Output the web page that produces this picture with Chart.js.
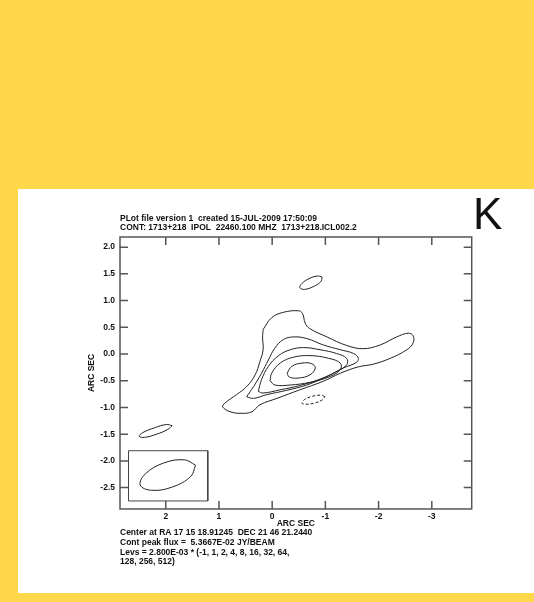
<!DOCTYPE html>
<html>
<head>
<meta charset="utf-8">
<script src="https://cdn.jsdelivr.net/npm/chart.js@4.4.1/dist/chart.umd.min.js"></script>
<style>
  html, body { margin: 0; padding: 0; }
  body { width: 534px; height: 602px; background: #ffd74a; position: relative; overflow: hidden; }
  .panel { position: absolute; left: 18px; top: 189px; width: 516px; height: 404px; background: #fff; }
  .panel canvas { position: absolute; left: 0; top: 0; }
  .tag { position: absolute; left: 455px; top: 3px; font: 44px/44px "Liberation Sans", Arial, sans-serif; color: #111; }
</style>
</head>
<body>
<div class="panel">
  <canvas id="contourChart" width="516" height="404"></canvas>
  <div class="tag">K</div>
</div>
<script>
// axis ticks (arc sec)
const xTicks = [2, 1, 0, -1, -2, -3];
const yTicks = [-2.5, -2, -1.5, -1, -0.5, 0, 0.5, 1, 1.5, 2];

// header / footer text
const headerLines = [
  "PLot file version 1  created 15-JUL-2009 17:50:09",
  "CONT: 1713+218  IPOL  22460.100 MHZ  1713+218.ICL002.2"
];
const footerLines = [
  "Center at RA 17 15 18.91245  DEC 21 46 21.2440",
  "Cont peak flux =  5.3667E-02 JY/BEAM",
  "Levs = 2.800E-03 * (-1, 1, 2, 4, 8, 16, 32, 64,",
  "128, 256, 512)"
];

// contours, [ra offset, dec offset] in arc sec
const level1 = [[0.17,0.46],[0.01,0.68],[-0.21,0.78],[-0.49,0.81],[-0.57,0.76],[-0.62,0.58],[-0.70,0.48],
  [-1.03,0.32],[-1.40,0.16],[-1.71,0.10],[-2.03,0.17],[-2.34,0.32],[-2.56,0.39],[-2.65,0.34],[-2.65,0.21],
  [-2.53,0.08],[-2.22,-0.08],[-1.90,-0.19],[-1.62,-0.24],[-1.28,-0.36],[-0.96,-0.51],[-0.52,-0.67],
  [-0.09,-0.83],[0.23,-0.95],[0.38,-1.08],[0.57,-1.11],[0.79,-1.08],[0.93,-0.99],[0.89,-0.92],
  [0.67,-0.76],[0.48,-0.61],[0.32,-0.39],[0.23,-0.14],[0.17,0.08],[0.18,0.30],[0.17,0.46]];
const level2 = [[0.48,-0.80],[0.35,-0.61],[0.20,-0.36],[0.07,-0.11],[-0.05,0.11],[-0.21,0.27],[-0.40,0.32],
  [-0.65,0.29],[-0.96,0.17],[-1.28,0.08],[-1.53,0.01],[-1.62,-0.08],[-1.58,-0.16],[-1.34,-0.26],
  [-1.03,-0.42],[-0.65,-0.58],[-0.27,-0.68],[0.10,-0.76],[0.35,-0.83],[0.48,-0.80]];
const level3 = [[0.26,-0.70],[0.20,-0.48],[0.07,-0.23],[-0.12,-0.03],[-0.34,0.08],[-0.59,0.12],[-0.90,0.08],
  [-1.21,0.01],[-1.40,-0.08],[-1.40,-0.20],[-1.21,-0.33],[-0.90,-0.47],[-0.52,-0.59],[-0.15,-0.67],
  [0.17,-0.73],[0.26,-0.70]];
const level4 = [[0.04,-0.50],[0.01,-0.36],[-0.15,-0.17],[-0.40,-0.06],[-0.71,-0.03],[-1.06,-0.08],[-1.28,-0.17],
  [-1.28,-0.29],[-1.09,-0.42],[-0.71,-0.53],[-0.34,-0.58],[-0.05,-0.58],[0.04,-0.50]];
const level5 = [[-0.28,-0.36],[-0.37,-0.23],[-0.56,-0.17],[-0.74,-0.18],[-0.81,-0.26],[-0.71,-0.39],
  [-0.49,-0.45],[-0.32,-0.43],[-0.28,-0.36]];
const knotNorth = [[-0.94,1.44],[-0.85,1.46],[-0.69,1.41],[-0.56,1.32],[-0.52,1.24],[-0.61,1.21],
  [-0.77,1.26],[-0.91,1.35],[-0.94,1.44]];
const knotSouthWest = [[1.88,-1.34],[1.99,-1.32],[2.21,-1.38],[2.43,-1.47],[2.50,-1.54],[2.40,-1.56],
  [2.17,-1.50],[1.96,-1.41],[1.88,-1.34]];
const negative = [[-0.99,-0.80],[-0.92,-0.77],[-0.76,-0.79],[-0.61,-0.85],[-0.56,-0.92],[-0.63,-0.94],
  [-0.79,-0.92],[-0.94,-0.86],[-0.99,-0.80]];
const beam = [[1.44,-2.08],[1.65,-1.98],[2.04,-2.04],[2.38,-2.24],[2.48,-2.45],[2.27,-2.55],
  [1.88,-2.49],[1.53,-2.29],[1.44,-2.08]];
const beamBox = [[2.70,-1.81],[1.21,-1.81],[1.21,-2.75],[2.70,-2.75],[2.70,-1.81]];

const lineColor = "#222";
const txtFont = { family: "'Liberation Sans', Arial, sans-serif", size: 8.5, weight: "bold", lineHeight: 1.1 };

const toPts = (arr) => arr.map(([x, y]) => ({ x, y }));
const contour = (arr, extra) => Object.assign({
  data: toPts(arr),
  showLine: true,
  borderColor: lineColor,
  borderWidth: 1,
  pointRadius: 0,
  tension: 0.4,
  fill: false
}, extra || {});

// frame with inward tick marks on all four sides
const framePlugin = {
  id: "frame",
  afterDatasetsDraw(chart) {
    const { ctx, chartArea: a, scales } = chart;
    const len = 8;
    ctx.save();
    ctx.strokeStyle = "#555";
    ctx.lineWidth = 1.5;
    ctx.strokeRect(a.left, a.top, a.right - a.left, a.bottom - a.top);
    ctx.beginPath();
    scales.x.ticks.forEach(t => {
      const px = scales.x.getPixelForValue(t.value);
      ctx.moveTo(px, a.top); ctx.lineTo(px, a.top + len);
      ctx.moveTo(px, a.bottom); ctx.lineTo(px, a.bottom - len);
    });
    scales.y.ticks.forEach(t => {
      const py = scales.y.getPixelForValue(t.value);
      ctx.moveTo(a.left, py); ctx.lineTo(a.left + len, py);
      ctx.moveTo(a.right, py); ctx.lineTo(a.right - len, py);
    });
    ctx.stroke();
    ctx.restore();
  }
};

new Chart(document.getElementById("contourChart"), {
  type: "scatter",
  data: {
    datasets: [
      contour(level1), contour(level2), contour(level3), contour(level4), contour(level5),
      contour(knotNorth), contour(knotSouthWest),
      contour(negative, { borderDash: [3, 2] }),
      contour(beam),
      contour(beamBox, { tension: 0, borderColor: "#444" })
    ]
  },
  options: {
    responsive: false,
    animation: false,
    devicePixelRatio: 1,
    layout: { padding: { left: 0, right: 62.3, top: 0, bottom: 26.4 } },
    plugins: {
      legend: { display: false },
      tooltip: { enabled: false },
      title: {
        display: true, text: headerLines, align: "start", fullSize: false,
        color: "#111", font: txtFont, padding: { top: 25, bottom: 4.3 }
      },
      subtitle: {
        display: true, text: footerLines, position: "bottom", align: "start", fullSize: false,
        color: "#111", font: Object.assign({}, txtFont, { lineHeight: 1.13 }), padding: 0
      }
    },
    scales: {
      x: {
        type: "linear", min: -3.75, max: 2.86, reverse: true,
        afterBuildTicks: s => { s.ticks = xTicks.map(v => ({ value: v })); },
        afterFit: s => { s.height = 19.2; },
        grid: { display: false, drawTicks: false }, border: { display: false },
        ticks: { padding: 3, color: "#111", font: txtFont, callback: v => String(v) },
        title: { display: true, text: "ARC SEC", color: "#111", font: txtFont, padding: 0 }
      },
      y: {
        type: "linear", min: -2.90, max: 2.19,
        afterBuildTicks: s => { s.ticks = yTicks.map(v => ({ value: v })); },
        afterFit: s => { s.width = 102; },
        grid: { display: false, drawTicks: false }, border: { display: false },
        ticks: { padding: 5, color: "#111", font: txtFont, callback: v => v.toFixed(1) },
        title: { display: true, text: "ARC SEC", color: "#111", font: txtFont, padding: { top: 68.7, bottom: 0 } }
      }
    }
  },
  plugins: [framePlugin]
});
</script>
</body>
</html>
